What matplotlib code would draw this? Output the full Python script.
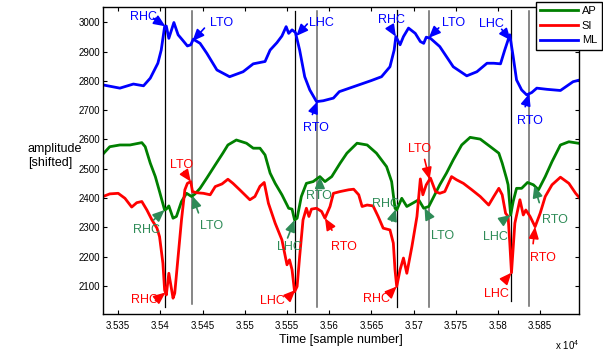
import numpy as np
import matplotlib
matplotlib.use("Agg")
import matplotlib.pyplot as plt
from matplotlib.ticker import FuncFormatter

plt.rcParams['font.family'] = ['Liberation Sans', 'DejaVu Sans']
plt.rcParams['mathtext.default'] = 'regular'

# gait signals (shifted amplitudes) vs sample number
ml_x = [35332, 35352, 35368, 35380, 35388, 35397, 35401, 35405, 35407, 35410,
        35416, 35421, 35426, 35432, 35436, 35439, 35447, 35455, 35467, 35482,
        35498, 35510, 35524, 35530, 35538, 35544, 35549, 35552, 35556, 35560,
        35565, 35571, 35577, 35585, 35593, 35605, 35612, 35629, 35650, 35662,
        35672, 35677, 35679, 35684, 35688, 35694, 35702, 35708, 35712, 35715,
        35720, 35731, 35747, 35763, 35775, 35787, 35795, 35803, 35808, 35814,
        35818, 35822, 35828, 35834, 35840, 35846, 35858, 35874, 35889, 35897]
ml_y = [2786, 2775, 2789, 2783, 2809, 2860, 2905, 2985, 2987, 2945,
        2999, 2957, 2940, 2919, 2923, 2942, 2928, 2894, 2837, 2814,
        2831, 2858, 2866, 2905, 2930, 2953, 2985, 2962, 2974, 2965,
        2905, 2814, 2769, 2729, 2732, 2741, 2763, 2780, 2801, 2814,
        2848, 2905, 2951, 2923, 2951, 2980, 2962, 2934, 2928, 2949,
        2945, 2917, 2848, 2817, 2831, 2860, 2860, 2858, 2905, 2957,
        2883, 2803, 2769, 2752, 2760, 2775, 2771, 2767, 2797, 2803]

ap_x = [35332, 35340, 35352, 35364, 35378, 35382, 35388, 35394, 35399, 35405,
        35407, 35410, 35415, 35419, 35425, 35431, 35437, 35441, 35447, 35455,
        35465, 35474, 35480, 35490, 35502, 35510, 35518, 35524, 35530, 35536,
        35544, 35552, 35556, 35559, 35562, 35567, 35573, 35581, 35589, 35595,
        35603, 35613, 35621, 35633, 35645, 35656, 35668, 35674, 35678, 35680,
        35686, 35692, 35700, 35706, 35712, 35718, 35724, 35731, 35739, 35747,
        35757, 35767, 35779, 35791, 35801, 35805, 35810, 35812, 35815, 35818,
        35822, 35828, 35835, 35842, 35848, 35856, 35864, 35874, 35884, 35895]
ap_y = [2550, 2575, 2581, 2581, 2589, 2575, 2519, 2473, 2422, 2359,
        2362, 2373, 2331, 2337, 2388, 2416, 2405, 2414, 2433, 2468,
        2513, 2553, 2581, 2598, 2587, 2570, 2570, 2547, 2485, 2450,
        2411, 2365, 2362, 2325, 2331, 2405, 2450, 2456, 2473, 2456,
        2473, 2519, 2553, 2587, 2581, 2553, 2507, 2456, 2365, 2359,
        2399, 2371, 2384, 2394, 2365, 2371, 2405, 2445, 2485, 2530,
        2581, 2607, 2601, 2575, 2553, 2519, 2468, 2445, 2342, 2388,
        2433, 2433, 2453, 2445, 2428, 2473, 2524, 2581, 2592, 2587]

si_x = [35332, 35340, 35350, 35358, 35366, 35372, 35378, 35384, 35390, 35396,
        35399, 35403, 35405, 35407, 35410, 35415, 35417, 35421, 35425, 35429,
        35432, 35436, 35438, 35443, 35451, 35459, 35465, 35473, 35480, 35486,
        35494, 35506, 35512, 35518, 35523, 35528, 35536, 35544, 35550, 35553,
        35556, 35559, 35562, 35565, 35569, 35573, 35576, 35579, 35585, 35591,
        35595, 35601, 35605, 35613, 35623, 35629, 35635, 35639, 35645, 35652,
        35658, 35664, 35672, 35676, 35678, 35680, 35684, 35688, 35692, 35698,
        35704, 35708, 35711, 35715, 35720, 35726, 35731, 35737, 35745, 35751,
        35759, 35769, 35779, 35789, 35795, 35801, 35805, 35809, 35812, 35814,
        35816, 35820, 35826, 35830, 35833, 35838, 35844, 35850, 35856, 35864,
        35874, 35884, 35892, 35897]
si_y = [2405, 2414, 2416, 2399, 2369, 2384, 2388, 2359, 2325, 2297,
        2268, 2177, 2086, 2069, 2143, 2058, 2075, 2200, 2325, 2428,
        2450, 2456, 2422, 2418, 2416, 2411, 2439, 2448, 2464, 2450,
        2428, 2394, 2405, 2440, 2453, 2382, 2314, 2257, 2172, 2189,
        2155, 2080, 2098, 2200, 2325, 2365, 2337, 2362, 2365, 2354,
        2331, 2371, 2416, 2422, 2428, 2430, 2411, 2371, 2376, 2373,
        2337, 2297, 2291, 2246, 2155, 2098, 2155, 2195, 2143, 2234,
        2337, 2465, 2411, 2445, 2468, 2422, 2416, 2422, 2473, 2462,
        2450, 2428, 2405, 2376, 2405, 2433, 2411, 2348, 2337, 2246,
        2145, 2314, 2394, 2342, 2359, 2337, 2302, 2348, 2405, 2445,
        2471, 2450, 2416, 2399]

# heel contact / toe off event lines
hc_x = [35406, 35560, 35680, 35815]
hc_top = [3052, 3038, 3042, 3042]
hc_bottom = [2028, 2011, 2028, 2049]
to_x = [35438, 35586, 35718, 35837]
to_top = [3038, 3038, 3038, 3038]
to_bottom = [2038, 2028, 2028, 2032]

# detected events on each signal
events = ['RHC', 'LTO', 'LHC', 'RTO', 'RHC', 'LTO', 'LHC', 'RTO']
ml_events = [35406, 35438, 35561, 35586, 35679, 35718, 35815, 35837]
ap_events = [35405, 35438, 35559, 35589, 35679, 35713, 35815, 35843]
si_events = [35406, 35436, 35560, 35595, 35680, 35719, 35816, 35844]

# label placement, pixels from the arrow tip: (text dx, text dy, tail dx, tail dy)
ml_place = [(-22, 9, -12, 8), (29, 18, 12, 13), (25, 13, 11, 12), (-1, -26, -5, -13),
            (-4, 17, -6, 10), (25, 15, 10, 10), (-19, 16, -9, 11), (1, -27, -4, -13)]
ap_place = [(-18, -20, -11, -10), (19, -30, 6, -17), (-5, -27, -7, -18), (-1, -19, 0, -11),
            (-10, 5, -4, -12), (18, -28, 5, -10), (-15, -22, -7, -5), (21, -34, 5, -17)]
si_place = [(-21, -8, -10, -8), (-9, 17, -7, 10), (-23, -11, -7, -7), (19, -29, 7, -12),
            (-20, -13, -8, -8), (-10, 30, -5, 20), (-15, -21, -7, -8), (8, -31, -2, -17)]

fig = plt.figure(figsize=(6.03, 3.58), dpi=100)
ax = fig.add_axes([103 / 603, 1 - 314 / 358, 476 / 603, 307 / 358])

for x, b, t in zip(hc_x, hc_bottom, hc_top):
    ax.plot([x, x], [b, t], color='k', lw=0.9, zorder=1)
for x, b, t in zip(to_x, to_bottom, to_top):
    ax.plot([x, x], [b, t], color='0.4', lw=1.1, zorder=1)

ax.plot(ap_x, ap_y, color='#008000', lw=2, label='AP', zorder=2)
ax.plot(si_x, si_y, color='#ff0000', lw=2, label='SI', zorder=2)
ax.plot(ml_x, ml_y, color='#0000ff', lw=2, label='ML', zorder=2)


def mark_events(sx, sy, ev_x, place, color):
    for name, ex, (tdx, tdy, adx, ady) in zip(events, ev_x, place):
        ey = np.interp(ex, sx, sy)
        ax.annotate('', xy=(ex, ey), xytext=(adx, ady), textcoords='offset pixels',
                    arrowprops=dict(arrowstyle='-|>,head_length=0.7,head_width=0.3',
                                    color=color, lw=1.2, shrinkA=0, shrinkB=0,
                                    mutation_scale=10), zorder=4)
        ax.annotate(name, xy=(ex, ey), xytext=(tdx, tdy), textcoords='offset pixels',
                    ha='center', va='center', color=color, fontsize=9, zorder=4)


mark_events(ml_x, ml_y, ml_events, ml_place, '#0000ff')
mark_events(ap_x, ap_y, ap_events, ap_place, '#2e8b57')
mark_events(si_x, si_y, si_events, si_place, '#ff0000')

ax.set_xlim(35332, 35896)
ax.set_ylim(2004, 3052)
ax.set_xticks(np.arange(35350, 35851, 50))
ax.set_yticks(np.arange(2100, 3001, 100))
ax.xaxis.set_major_formatter(FuncFormatter(lambda v, p: f'{v / 1e4:g}'))
ax.tick_params(direction='in', top=True, right=True, length=3, width=0.8, labelsize=7)
ax.tick_params(axis='x', pad=5)
ax.tick_params(axis='y', pad=2)
for s in ax.spines.values():
    s.set_linewidth(1)

ax.set_xlabel('Time [sample number]', fontsize=9, labelpad=2)
fig.text(27.7 / 603, 1 - 156 / 358, 'amplitude\n[shifted]', ha='left', va='center',
         fontsize=9, linespacing=1.15)
fig.text(579 / 603, 1 - 345 / 358, r'x 10$^4$', ha='right', va='center', fontsize=7)

fig.legend(loc='upper left', bbox_to_anchor=(535.7 / 603, 1 - 1.7 / 358), fontsize=8,
           fancybox=False, framealpha=1, edgecolor='k', handlelength=3.4,
           handletextpad=0.35, labelspacing=0.42, borderpad=0.4, borderaxespad=0)

fig.savefig('out.png', dpi=100)
